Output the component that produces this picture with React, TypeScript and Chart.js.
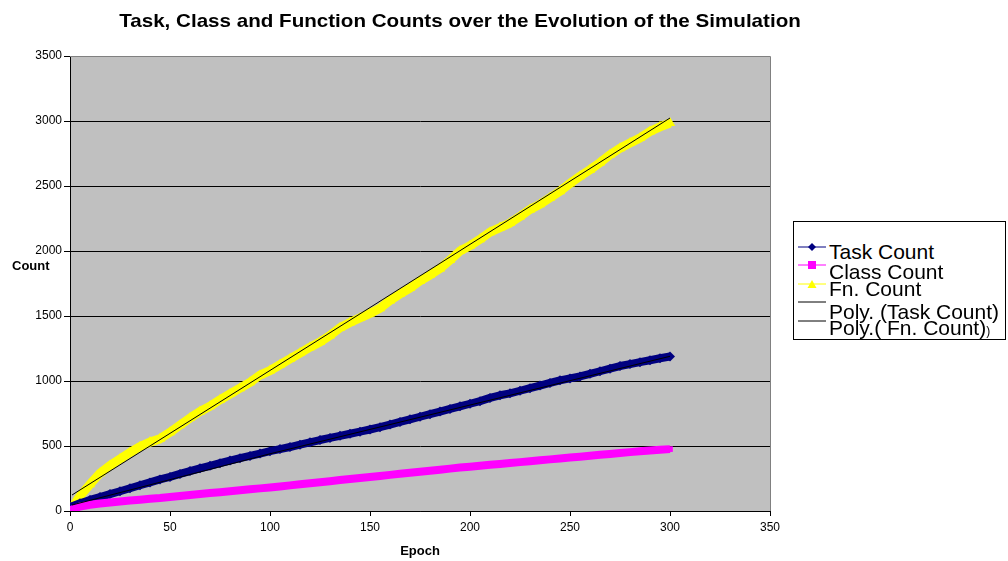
import React, { useEffect, useRef } from "react";
import { Chart, registerables } from "chart.js";

Chart.register(...registerables);

const FONT = '"Liberation Sans", Arial, Helvetica, sans-serif';

// Simulation epochs (sampled every 5 epochs)
const epochs = [
  0, 5, 10, 15, 20, 25, 30, 35, 40, 45, 50, 55, 60, 65, 70, 75, 80, 85, 90, 95,
  100, 105, 110, 115, 120, 125, 130, 135, 140, 145, 150, 155, 160, 165, 170, 175,
  180, 185, 190, 195, 200, 205, 210, 215, 220, 225, 230, 235, 240, 245, 250, 255,
  260, 265, 270, 275, 280, 285, 290, 295, 300,
];

const taskCount = [
  30, 60, 85, 108, 130, 152, 175, 198, 220, 243, 262, 285, 307, 328, 348, 368,
  388, 406, 424, 442, 460, 476, 492, 510, 528, 546, 562, 578, 594, 610, 627, 645,
  665, 685, 705, 725, 745, 765, 785, 805, 825, 845, 870, 890, 905, 925, 945, 965,
  985, 1005, 1020, 1035, 1055, 1075, 1095, 1115, 1130, 1145, 1160, 1175, 1188,
];

const classCount = [
  5, 35, 48, 57, 65, 73, 80, 87, 94, 100, 108, 115, 123, 130, 138, 145, 152, 160,
  167, 174, 181, 189, 197, 205, 213, 221, 229, 238, 246, 254, 262, 270, 278, 286,
  294, 302, 310, 318, 326, 334, 341, 348, 355, 362, 369, 376, 383, 390, 397, 404,
  411, 418, 425, 432, 439, 446, 453, 460, 466, 471, 476,
];

const fnCount = [
  0, 115, 205, 290, 350, 400, 450, 495, 530, 555, 605, 660, 715, 765, 805, 855,
  900, 945, 990, 1045, 1080, 1125, 1170, 1215, 1260, 1300, 1350, 1410, 1450, 1485,
  1520, 1560, 1620, 1670, 1715, 1770, 1815, 1865, 1930, 2000, 2040, 2090, 2145,
  2180, 2215, 2265, 2320, 2360, 2410, 2460, 2520, 2575, 2625, 2680, 2740, 2790,
  2830, 2870, 2920, 2955, 2985,
];

// Polynomial trend lines
const taskTrendEpochs = [1, 100, 200, 300];
const taskTrend = [46, 440, 815, 1190];
const fnTrendEpochs = [1, 150, 300];
const fnTrend = [123, 1565, 3023];

const chartTitle =
  "Task, Class and Function Counts over the Evolution of the Simulation";
const xTitle = "Epoch";
const yTitle = "Count";

const toPoints = (xs: number[], ys: number[]) =>
  xs.map((x, i) => ({ x, y: ys[i] }));

const plotBackground = {
  id: "plotBackground",
  beforeDraw(chart: any) {
    const { ctx, chartArea } = chart;
    const { left, top, right, bottom } = chartArea;
    ctx.save();
    ctx.fillStyle = "#C0C0C0";
    ctx.fillRect(left, top, right - left, bottom - top);
    ctx.restore();
  },
  beforeDatasetsDraw(chart: any) {
    const { ctx, chartArea } = chart;
    const { left, top, right, bottom } = chartArea;
    ctx.save();
    ctx.strokeStyle = "#808080";
    ctx.lineWidth = 1;
    ctx.beginPath();
    ctx.moveTo(left, Math.round(top) + 0.5);
    ctx.lineTo(Math.round(right) + 0.5, Math.round(top) + 0.5);
    ctx.lineTo(Math.round(right) + 0.5, bottom);
    ctx.stroke();
    ctx.restore();
  },
};

function LegendSymbol({
  color,
  marker,
  top,
}: {
  color: string;
  marker: "diamond" | "square" | "triangle" | "none";
  top: number;
}) {
  let shape: React.ReactNode = null;
  if (marker === "diamond") {
    shape = <polygon points="14,1 18,5 14,9 10,5" fill={color} />;
  } else if (marker === "square") {
    shape = <rect x={10} y={1} width={8} height={8} fill={color} />;
  } else if (marker === "triangle") {
    shape = <polygon points="14,1 18.5,9 9.5,9" fill={color} />;
  }
  return (
    <svg
      width={28}
      height={10}
      style={{ position: "absolute", left: 798, top: top - 5 }}
    >
      <line x1={0} y1={5} x2={28} y2={5} stroke={color} strokeWidth={1} />
      {shape}
    </svg>
  );
}

const legendText: React.CSSProperties = {
  position: "absolute",
  left: 829,
  fontFamily: FONT,
  fontSize: 21,
  lineHeight: "21px",
  color: "#000",
  whiteSpace: "nowrap",
};

export default function App() {
  const canvasRef = useRef<HTMLCanvasElement>(null);

  useEffect(() => {
    const canvas = canvasRef.current;
    if (!canvas) return;
    Chart.defaults.font.family = FONT;

    const chart = new Chart(canvas, {
      type: "line",
      data: {
        datasets: [
          {
            label: "Poly. (Task Count)",
            data: toPoints(taskTrendEpochs, taskTrend),
            borderColor: "#000000",
            borderWidth: 1,
            pointRadius: 0,
            order: 0,
          },
          {
            label: "Poly.( Fn. Count)",
            data: toPoints(fnTrendEpochs, fnTrend),
            borderColor: "#000000",
            borderWidth: 1,
            pointRadius: 0,
            order: 0,
          },
          {
            label: "Class Count",
            data: toPoints(epochs, classCount),
            borderColor: "#FF00FF",
            backgroundColor: "#FF00FF",
            borderWidth: 8,
            borderJoinStyle: "round",
            pointStyle: "rect",
            pointRadius: 4,
            pointBorderWidth: 0,
            order: 1,
          },
          {
            label: "Task Count",
            data: toPoints(epochs, taskCount),
            borderColor: "#000080",
            backgroundColor: "#000080",
            borderWidth: 8,
            borderJoinStyle: "round",
            pointStyle: "rectRot",
            pointRadius: 5,
            pointBorderWidth: 0,
            order: 2,
          },
          {
            label: "Fn. Count",
            data: toPoints(epochs, fnCount),
            borderColor: "#FFFF00",
            backgroundColor: "#FFFF00",
            borderWidth: 9,
            borderJoinStyle: "round",
            pointStyle: "triangle",
            pointRadius: 6,
            pointBorderWidth: 0,
            order: 3,
          },
        ],
      },
      options: {
        responsive: false,
        animation: false,
        devicePixelRatio: 1,
        layout: { padding: { left: 8, top: 56, right: 150, bottom: 0 } },
        plugins: {
          legend: { display: false },
          title: { display: false },
          tooltip: { enabled: false },
        },
        elements: { line: { tension: 0 } },
        scales: {
          x: {
            type: "linear",
            min: 0,
            max: 350,
            ticks: {
              stepSize: 50,
              color: "#000",
              font: { size: 12 },
              padding: 4,
              maxRotation: 0,
              callback: (v: any) => String(v),
            },
            grid: {
              drawOnChartArea: false,
              drawTicks: true,
              tickLength: 5,
              tickColor: "#000",
              color: "#000",
            },
            border: { color: "#000", width: 1 },
            title: {
              display: true,
              text: xTitle,
              color: "#000",
              font: { size: 13, weight: "bold" },
              padding: { top: 0, bottom: 2 },
            },
            afterFit: (scale: any) => {
              scale.height = 50;
            },
          },
          y: {
            type: "linear",
            min: 0,
            max: 3500,
            ticks: {
              stepSize: 500,
              color: "#000",
              font: { size: 12 },
              padding: 2,
              callback: (v: any) => String(v),
            },
            grid: {
              color: (c: any) =>
                c.tick && c.tick.value === 3500 ? "#808080" : "#000",
              tickColor: "#000",
              tickLength: 6,
              drawTicks: true,
            },
            border: { color: "#000", width: 1 },
            afterFit: (scale: any) => {
              scale.width = 62;
            },
          },
        },
      } as any,
      plugins: [plotBackground],
    });

    return () => chart.destroy();
  }, []);

  return (
    <div
      style={{
        position: "fixed",
        left: 0,
        top: 0,
        width: 1008,
        height: 561,
        background: "#fff",
        overflow: "hidden",
      }}
    >
      <canvas
        ref={canvasRef}
        width={920}
        height={561}
        style={{ position: "absolute", left: 0, top: 0, width: 920, height: 561 }}
      />
      <div
        style={{
          position: "absolute",
          left: 0,
          top: 10,
          width: 920,
          textAlign: "center",
          fontFamily: FONT,
          fontWeight: "bold",
          fontSize: 19,
          color: "#000",
          whiteSpace: "nowrap",
          transform: "scaleX(1.084)",
          transformOrigin: "460px 0",
        }}
      >
        {chartTitle}
      </div>
      <div
        style={{
          position: "absolute",
          left: 12,
          top: 258,
          fontFamily: FONT,
          fontWeight: "bold",
          fontSize: 13,
          color: "#000",
        }}
      >
        {yTitle}
      </div>
      <div
        style={{
          position: "absolute",
          left: 793,
          top: 221,
          width: 213,
          height: 119,
          boxSizing: "border-box",
          border: "1px solid #000",
          background: "#fff",
        }}
      />
      <LegendSymbol color="#000080" marker="diamond" top={247} />
      <LegendSymbol color="#FF00FF" marker="square" top={265} />
      <LegendSymbol color="#FFFF00" marker="triangle" top={284} />
      <LegendSymbol color="#000000" marker="none" top={302} />
      <LegendSymbol color="#000000" marker="none" top={321} />
      <div style={{ ...legendText, top: 240.5 }}>Task Count</div>
      <div style={{ ...legendText, top: 260.5 }}>Class Count</div>
      <div style={{ ...legendText, top: 278.2 }}>Fn. Count</div>
      <div style={{ ...legendText, top: 300.5 }}>Poly. (Task Count)</div>
      <div style={{ ...legendText, top: 316.5 }}>
        Poly.( Fn. Count)<span style={{ fontSize: 12 }}>)</span>
      </div>
    </div>
  );
}
